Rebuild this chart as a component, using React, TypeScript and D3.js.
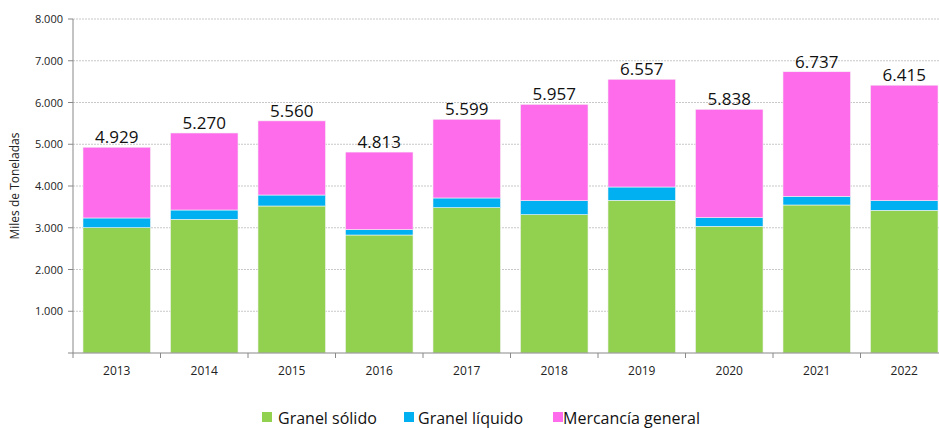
import React from "react";
import * as d3 from "d3";

const years = ["2013", "2014", "2015", "2016", "2017", "2018", "2019", "2020", "2021", "2022"];
const granelSolido = [3001, 3202, 3521, 2826, 3481, 3313, 3657, 3034, 3545, 3417];
const granelLiquido = [233, 223, 263, 128, 232, 336, 319, 208, 208, 232];
const totales = [4929, 5270, 5560, 4813, 5599, 5957, 6557, 5838, 6737, 6415];
const mercancia = totales.map((t, i) => t - granelSolido[i] - granelLiquido[i]);
const yTicks = [1000, 2000, 3000, 4000, 5000, 6000, 7000, 8000];

const series = [
  { key: "Granel sólido", values: granelSolido, color: "#92d050" },
  { key: "Granel líquido", values: granelLiquido, color: "#00b0f0" },
  { key: "Mercancía general", values: mercancia, color: "#fe6ceb" },
];

const fmt = (v: number) => d3.format(",")(v).replace(/,/g, ".");

export default function App() {
  const width = 939;
  const height = 428;
  const left = 73;
  const top = 19;
  const bottom = 353;
  const plotRight = 948;

  const x = d3.scaleBand<string>().domain(years).range([left, plotRight]).paddingInner(0.228).paddingOuter(0.114);
  const y = d3.scaleLinear().domain([0, 8000]).range([bottom, top]);
  const step = x.step();

  const rows = years.map((yr, i) => {
    const o: any = { year: yr };
    series.forEach((s) => (o[s.key] = s.values[i]));
    return o;
  });
  const stacked = d3.stack<any>().keys(series.map((s) => s.key))(rows);

  const font = "'Open Sans', 'Noto Sans', sans-serif";

  return (
    <svg
      width={width}
      height={height}
      style={{ position: "absolute", left: 0, top: 0, background: "#fff", overflow: "hidden" }}
      fontFamily={font}
    >
      {yTicks.map((t) => (
        <line key={t} x1={left} x2={width} y1={y(t)} y2={y(t)} stroke="#c8c8c8" strokeWidth={1} strokeDasharray="2,1" />
      ))}
      {stacked.map((layer, li) => (
        <g key={layer.key} fill={series[li].color}>
          {layer.map((d, i) => (
            <rect
              key={years[i]}
              x={x(years[i])!}
              width={x.bandwidth()}
              y={y(d[1])}
              height={y(d[0]) - y(d[1])}
              stroke="#f4f4f4"
              strokeWidth={0.6}
            />
          ))}
        </g>
      ))}
      {/* axes */}
      <line x1={left} x2={left} y1={top} y2={bottom} stroke="#888" />
      <line x1={left} x2={width} y1={bottom} y2={bottom} stroke="#888" />
      {[0, ...yTicks].map((t) => (
        <g key={t}>
          <line x1={left - 5} x2={left} y1={y(t)} y2={y(t)} stroke="#888" />
          {t > 0 && (
            <text x={left - 10} y={y(t) + 4} textAnchor="end" fontSize={11} fill="#222">
              {fmt(t)}
            </text>
          )}
        </g>
      ))}
      {years.map((yr, i) => (
        <g key={yr}>
          <line x1={left + i * step} x2={left + i * step} y1={bottom} y2={bottom + 5} stroke="#888" />
          <text x={x(yr)! + x.bandwidth() / 2} y={375} textAnchor="middle" fontSize={12} fill="#222">
            {yr}
          </text>
          <text x={x(yr)! + x.bandwidth() / 2} y={y(totales[i]) - 4} textAnchor="middle" fontSize={17} fill="#111">
            {fmt(totales[i])}
          </text>
        </g>
      ))}
      <text transform={`translate(19,${(top + bottom) / 2}) rotate(-90)`} textAnchor="middle" fontSize={12} fill="#222">
        Miles de Toneladas
      </text>
      {/* legend */}
      {[
        { s: series[0], sx: 262, tx: 278 },
        { s: series[1], sx: 404, tx: 418 },
        { s: series[2], sx: 553, tx: 563 },
      ].map(({ s, sx, tx }) => (
        <g key={s.key}>
          <rect x={sx} y={412} width={10} height={10} fill={s.color} />
          <text x={tx} y={424} fontSize={16} fill="#111">
            {s.key}
          </text>
        </g>
      ))}
    </svg>
  );
}
